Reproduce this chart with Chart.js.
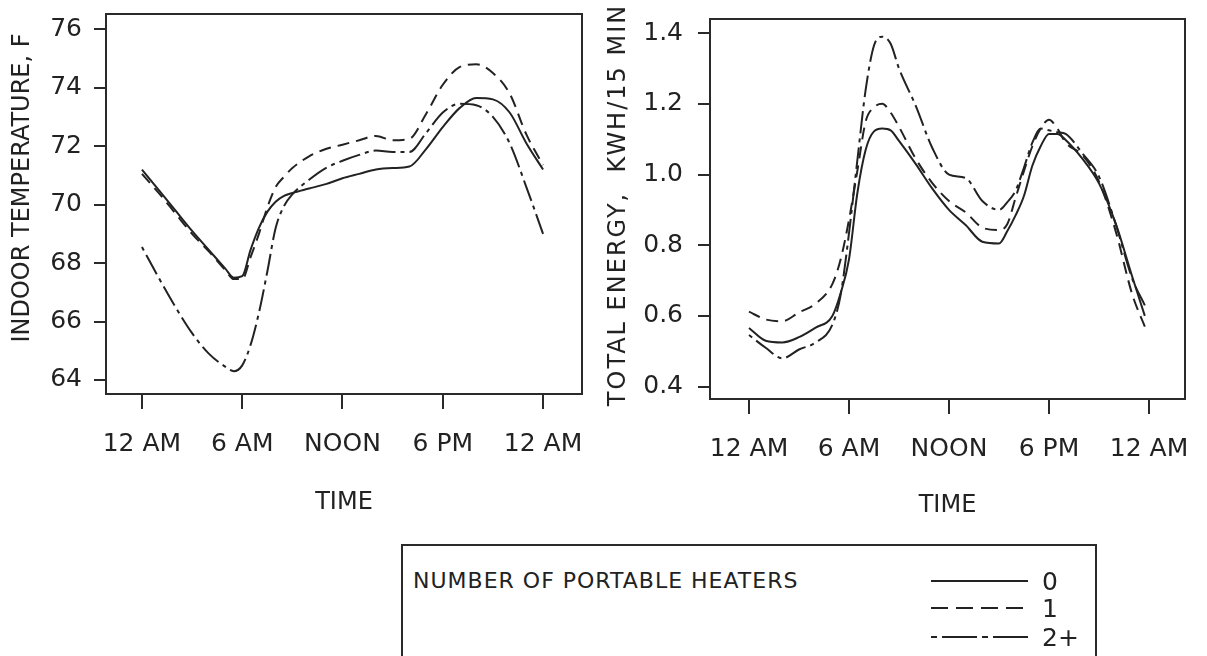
<!DOCTYPE html>
<html>
<head>
<meta charset="utf-8">
<title>Indoor temperature and total energy by number of portable heaters</title>
<script src="https://cdn.jsdelivr.net/npm/chart.js@4.4.1/dist/chart.umd.min.js"></script>
<style>
  html, body { margin: 0; padding: 0; background: #fff; }
  body {
    width: 1207px; height: 656px; position: relative; overflow: hidden;
    font-family: "DejaVu Sans", sans-serif; color: #222;
  }
  canvas { position: absolute; top: 0; }
  #tempChart { left: 0; }
  #energyChart { left: 600px; }
  .legend-box {
    position: absolute; left: 401px; top: 544px; width: 696px; height: 140px;
    box-sizing: border-box; border: 2px solid #2a2a2a;
  }
  .legend-title {
    position: absolute; left: 413px; top: 570px;
    font-size: 22px; line-height: 22px; letter-spacing: 1px; white-space: nowrap;
  }
  .legend-label {
    position: absolute; left: 1042px;
    font-size: 25px; line-height: 25px; white-space: nowrap;
  }
  #legendLines { position: absolute; left: 0; top: 0; pointer-events: none; }
</style>
</head>
<body>
<canvas id="tempChart" width="600" height="530"></canvas>
<canvas id="energyChart" width="607" height="530"></canvas>
<div class="legend-box"></div>
<div class="legend-title">NUMBER OF PORTABLE HEATERS</div>
<svg id="legendLines" width="1207" height="656"></svg>
<script>
"use strict";

// time axis
const tickHours = [0, 6, 12, 18, 24];
const tickLabels = ['12 AM', '6 AM', 'NOON', '6 PM', '12 AM'];
const heaterGroups = ['0', '1', '2+'];

// indoor temperature, F
const tempHours = [0, 1, 2, 3, 4, 5, 5.5, 6, 6.5, 7, 7.5, 8, 8.5, 9, 10, 11, 12, 13, 14, 15, 16, 17, 18, 19, 20, 21, 22, 23, 24];
const temp0 = [71.2, 70.5, 69.8, 69.1, 68.45, 67.8, 67.5, 67.55, 68.45, 69.2, 69.75, 70.1, 70.3, 70.4, 70.55, 70.7, 70.9, 71.05, 71.2, 71.25, 71.3, 71.9, 72.65, 73.3, 73.65, 73.6, 73.15, 72.1, 71.2];
const temp1 = [71.05, 70.4, 69.7, 69.0, 68.4, 67.75, 67.45, 67.45, 68.2, 69.0, 69.9, 70.6, 70.95, 71.25, 71.65, 71.9, 72.05, 72.2, 72.35, 72.2, 72.25, 73.1, 74.1, 74.7, 74.8, 74.5, 73.8, 72.4, 71.35];
const temp2 = [68.55, 67.5, 66.5, 65.6, 64.9, 64.45, 64.3, 64.5, 65.2, 66.3, 67.7, 69.2, 69.95, 70.35, 70.85, 71.25, 71.5, 71.7, 71.85, 71.8, 71.8, 72.45, 73.15, 73.45, 73.4, 73.0, 72.1, 70.6, 69.0];
const tempTicks = [64, 66, 68, 70, 72, 74, 76];

// total energy, kWh per 15 min
const energyHours = [0, 1, 2, 3, 4, 5, 5.5, 6, 6.5, 7, 7.5, 8, 8.5, 9, 10, 11, 12, 13, 14, 15, 15.5, 16, 16.5, 17, 17.5, 18, 18.5, 19, 20, 21, 22, 23, 23.75];
const energy0 = [0.566, 0.53, 0.525, 0.54, 0.567, 0.6, 0.665, 0.76, 0.947, 1.07, 1.122, 1.13, 1.125, 1.095, 1.03, 0.96, 0.9, 0.857, 0.81, 0.805, 0.84, 0.885, 0.94, 1.025, 1.08, 1.115, 1.115, 1.098, 1.045, 0.975, 0.862, 0.71, 0.6];
const energy1 = [0.612, 0.59, 0.585, 0.61, 0.635, 0.69, 0.76, 0.872, 1.01, 1.15, 1.19, 1.2, 1.175, 1.135, 1.045, 0.976, 0.925, 0.893, 0.85, 0.843, 0.86, 0.935, 1.01, 1.08, 1.13, 1.155, 1.13, 1.09, 1.055, 0.98, 0.84, 0.66, 0.57];
const energy2 = [0.546, 0.51, 0.48, 0.505, 0.525, 0.575, 0.66, 0.834, 1.04, 1.24, 1.365, 1.39, 1.37, 1.3, 1.195, 1.075, 1.0, 0.99, 0.925, 0.9, 0.922, 0.955, 1.02, 1.09, 1.13, 1.125, 1.12, 1.115, 1.06, 0.994, 0.86, 0.705, 0.63];
const energyTicks = [0.4, 0.6, 0.8, 1.0, 1.2, 1.4];

const INK = '#222';
const lineDashes = [[], [12, 7], [4, 5, 22, 5]];
const legendDashes = ['', '17 8', '6 5 35 5'];

Chart.defaults.font.family = '"DejaVu Sans", sans-serif';
Chart.defaults.color = INK;

// frame around the plot area
const frameBox = {
    id: 'frameBox',
    beforeDatasetsDraw(chart) {
        const { ctx, chartArea: a } = chart;
        ctx.save();
        ctx.strokeStyle = '#2a2a2a';
        ctx.lineWidth = 2;
        ctx.strokeRect(a.left, a.top, a.right - a.left, a.bottom - a.top);
        ctx.restore();
    }
};

// rotated y axis title, placed by hand like the original plot
const sideTitle = {
    id: 'sideTitle',
    afterDraw(chart, args, opts) {
        const ctx = chart.ctx;
        ctx.save();
        ctx.translate(opts.x, opts.y);
        ctx.rotate(-Math.PI / 2);
        ctx.font = '24px "DejaVu Sans", sans-serif';
        ctx.letterSpacing = opts.spacing || '0px';
        ctx.fillStyle = INK;
        ctx.textAlign = 'center';
        ctx.textBaseline = 'middle';
        ctx.fillText(opts.text, 0, 0);
        ctx.restore();
    }
};

// drop the automatic label overflow padding so the plot area matches the layout padding
function noScalePadding(s) {
    s.paddingLeft = 0;
    s.paddingRight = 0;
    s.paddingTop = 0;
    s.paddingBottom = 0;
}

function makeDatasets(hours, series) {
    return series.map((values, i) => ({
        label: heaterGroups[i],
        data: values.map((v, k) => ({ x: hours[k], y: v })),
        borderColor: INK,
        borderWidth: 2,
        borderDash: lineDashes[i],
        pointRadius: 0,
        fill: false,
        cubicInterpolationMode: 'monotone'
    }));
}

function buildChart(canvasId, hours, series, cfg) {
    const ctx = document.getElementById(canvasId).getContext('2d');
    const tickGrid = { drawOnChartArea: false, drawTicks: true, color: '#2a2a2a', lineWidth: 2 };

    return new Chart(ctx, {
        type: 'line',
        data: { datasets: makeDatasets(hours, series) },
        options: {
            responsive: false,
            animation: false,
            layout: { padding: { top: cfg.top, right: cfg.right, left: 0, bottom: 0 } },
            plugins: {
                legend: { display: false },
                tooltip: { enabled: false },
                sideTitle: { text: cfg.yTitle, x: cfg.yTitleX, y: cfg.yTitleY, spacing: cfg.yTitleSpacing }
            },
            scales: {
                x: {
                    type: 'linear',
                    min: cfg.xMin,
                    max: cfg.xMax,
                    afterBuildTicks: s => { s.ticks = tickHours.map(v => ({ value: v })); },
                    afterFit: s => { s.height = cfg.xAxisHeight; noScalePadding(s); },
                    grid: Object.assign({ tickLength: 15 }, tickGrid),
                    border: { display: false },
                    ticks: {
                        font: { size: 25 },
                        padding: 20,
                        maxRotation: 0,
                        autoSkip: false,
                        callback: v => tickLabels[tickHours.indexOf(v)]
                    },
                    title: { display: true, text: 'TIME', font: { size: 24 }, padding: { top: 0, bottom: cfg.xTitlePad } }
                },
                y: {
                    type: 'linear',
                    min: cfg.yMin,
                    max: cfg.yMax,
                    afterBuildTicks: s => { s.ticks = cfg.yTicks.map(v => ({ value: v })); },
                    afterFit: s => { s.width = cfg.yAxisWidth; noScalePadding(s); },
                    grid: Object.assign({ tickLength: 12 }, tickGrid),
                    border: { display: false },
                    ticks: {
                        font: { size: 25 },
                        padding: cfg.yTickPad,
                        callback: cfg.yFormat
                    }
                }
            }
        },
        plugins: [frameBox, sideTitle]
    });
}

buildChart('tempChart', tempHours, [temp0, temp1, temp2], {
    top: 14, right: 18,
    xMin: -2.15, xMax: 26.33, xAxisHeight: 136, xTitlePad: 13,
    yMin: 63.52, yMax: 76.52, yTicks: tempTicks, yAxisWidth: 106, yTickPad: 12,
    yTitle: 'INDOOR TEMPERATURE, F', yTitleX: 23, yTitleY: 188, yTitleSpacing: '0px',
    yFormat: v => String(v)
});

buildChart('energyChart', energyHours, [energy0, energy1, energy2], {
    top: 19, right: 22,
    xMin: -2.34, xMax: 26.16, xAxisHeight: 131, xTitlePad: 10,
    yMin: 0.365, yMax: 1.44, yTicks: energyTicks, yAxisWidth: 110, yTickPad: 15,
    yTitle: 'TOTAL ENERGY,  KWH/15 MIN', yTitleX: 19, yTitleY: 205, yTitleSpacing: '2px',
    yFormat: v => v.toFixed(1)
});

// legend rows: line sample and group label
const legendRowY = [581, 608, 637];
const svg = document.getElementById('legendLines');
heaterGroups.forEach((name, i) => {
    const line = document.createElementNS('http://www.w3.org/2000/svg', 'line');
    line.setAttribute('x1', 931);
    line.setAttribute('x2', 1028);
    line.setAttribute('y1', legendRowY[i]);
    line.setAttribute('y2', legendRowY[i]);
    line.setAttribute('stroke', INK);
    line.setAttribute('stroke-width', 2);
    if (legendDashes[i]) line.setAttribute('stroke-dasharray', legendDashes[i]);
    svg.appendChild(line);

    const label = document.createElement('div');
    label.className = 'legend-label';
    label.style.top = (legendRowY[i] - 12) + 'px';
    label.textContent = name;
    document.body.appendChild(label);
});
</script>
</body>
</html>
